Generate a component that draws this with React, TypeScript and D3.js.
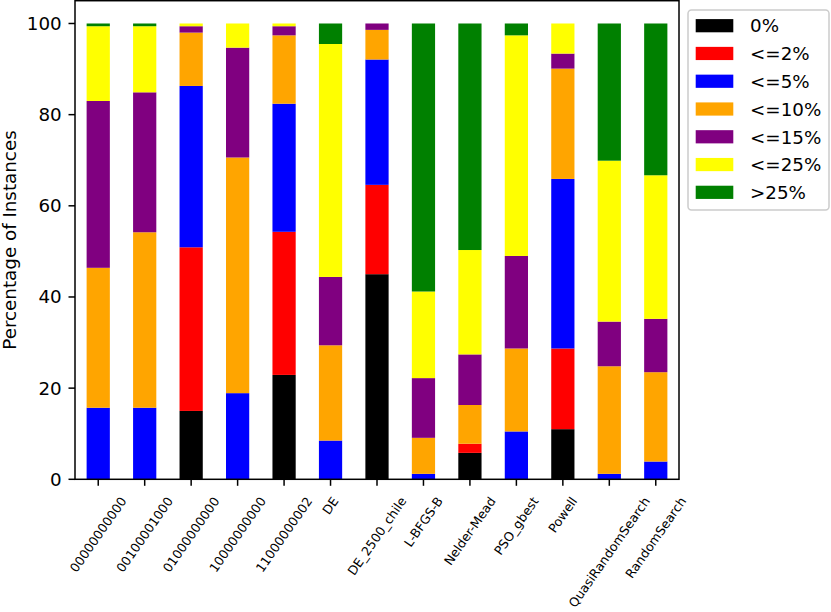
import React from "react";
import * as d3 from "d3";

const categories = [
  "00000000000", "00100001000", "01000000000", "10000000000", "11000000002",
  "DE", "DE_2500_chile", "L-BFGS-B", "Nelder-Mead", "PSO_gbest", "Powell",
  "QuasiRandomSearch", "RandomSearch",
];
const seriesNames = ["0%", "<=2%", "<=5%", "<=10%", "<=15%", "<=25%", ">25%"];
const seriesColors = ["#000000", "#ff0000", "#0000ff", "#ffa500", "#800080", "#ffff00", "#008000"];

const zero = [0, 0, 15.0, 0, 22.9, 0, 45.0, 0, 5.8, 0, 11.0, 0, 0];
const le2 = [0, 0, 35.9, 0, 31.4, 0, 19.6, 0, 2.0, 0, 17.7, 0, 0];
const le5 = [15.7, 15.7, 35.4, 18.9, 28.1, 8.5, 27.5, 1.2, 0, 10.5, 37.2, 1.2, 3.9];
const le10 = [30.7, 38.5, 11.7, 51.7, 15.0, 20.9, 6.5, 7.9, 8.5, 18.2, 24.2, 23.6, 19.6];
const le15 = [36.6, 30.7, 1.4, 24.1, 2.0, 15.0, 1.4, 13.1, 11.1, 20.3, 3.3, 9.8, 11.7];
const le25 = [16.4, 14.5, 0.6, 5.3, 0.6, 51.1, 0, 19.0, 22.9, 48.4, 6.6, 35.3, 31.5];
const gt25 = [0.6, 0.6, 0, 0, 0, 4.5, 0, 58.8, 49.7, 2.6, 0, 30.1, 33.3];

const yTicks = [0, 20, 40, 60, 80, 100];

const W = 831;
const H = 612;
const FONT = "DejaVu Sans";

function measure(text: string, size: number): number {
  if (typeof document === "undefined") return text.length * size * 0.6;
  const c = document.createElement("canvas");
  const ctx = c.getContext("2d");
  if (!ctx) return text.length * size * 0.6;
  ctx.font = `${size}px "${FONT}"`;
  return ctx.measureText(text).width;
}

export default function App() {
  const series = [zero, le2, le5, le10, le15, le25, gt25];
  const rows = categories.map((c, i) => {
    const r: Record<string, number | string> = { cat: c };
    seriesNames.forEach((s, k) => (r[s] = series[k][i]));
    return r;
  });
  const stack = d3.stack<any>().keys(seriesNames)(rows as any);

  const left = 75;
  const right = 679;
  const top = 0.7;
  const bottom = 479.3;
  const x = d3.scaleLinear().domain([-0.5, categories.length - 0.5]).range([left, right]);
  const y = d3.scaleLinear().domain([0, 105]).range([bottom, top]);
  const bw = x(0.25) - x(-0.25);

  const xFont = 12.6;
  const angle = 55;
  const sinA = Math.sin((angle * Math.PI) / 180);
  const cosA = Math.cos((angle * Math.PI) / 180);
  const hText = xFont * 1.164;
  const labelTop = bottom + 15;

  const legX = 688;
  const legY = 10;
  const legW = 141;
  const legH = 200;
  const entryY0 = 25.7;
  const entryStep = 27.77;

  return (
    <div style={{ position: "absolute", left: 0, top: 0 }}>
      <svg width={W} height={H} style={{ display: "block", background: "#fff" }} fontFamily={FONT}>
        <rect x={0} y={0} width={W} height={H} fill="#fff" />
        {stack.map((layer, k) => (
          <g key={seriesNames[k]} fill={seriesColors[k]}>
            {layer.map((d, i) =>
              d[1] - d[0] > 0 ? (
                <rect
                  key={i}
                  x={x(i) - bw / 2}
                  y={y(d[1])}
                  width={bw}
                  height={y(d[0]) - y(d[1])}
                />
              ) : null
            )}
          </g>
        ))}
        {/* spines */}
        <rect x={left} y={top} width={right - left} height={bottom - top} fill="none" stroke="#000" strokeWidth={1.5} />
        {/* y ticks */}
        {yTicks.map((t) => (
          <g key={t}>
            <line x1={left - 6.5} x2={left} y1={y(t)} y2={y(t)} stroke="#000" strokeWidth={1.5} />
            <text x={left - 13.3} y={y(t)} dy="0.35em" textAnchor="end" fontSize={18.3} fill="#000">
              {t}
            </text>
          </g>
        ))}
        {/* x ticks */}
        {categories.map((c, i) => {
          const L = measure(c, xFont);
          const bh = sinA * L + cosA * hText;
          const cy = labelTop + bh / 2;
          return (
            <g key={c}>
              <line x1={x(i)} x2={x(i)} y1={bottom} y2={bottom + 6.5} stroke="#000" strokeWidth={1.5} />
              <text
                transform={`translate(${x(i)},${cy}) rotate(${-angle})`}
                textAnchor="middle"
                dy="0.346em"
                fontSize={xFont}
                fill="#000"
              >
                {c}
              </text>
            </g>
          );
        })}
        {/* y label */}
        <text
          transform={`translate(16,${(top + bottom) / 2}) rotate(-90)`}
          textAnchor="middle"
          fontSize={18.3}
          fill="#000"
        >
          Percentage of Instances
        </text>
        {/* legend */}
        <rect x={legX} y={legY} width={legW} height={legH} rx={3.5} ry={3.5} fill="#fff" fillOpacity={0.8} stroke="#cccccc" strokeWidth={1.5} />
        {seriesNames.map((s, k) => {
          const cy = entryY0 + k * entryStep;
          return (
            <g key={s}>
              <rect x={695.7} y={cy - 6.6} width={37.6} height={13.2} fill={seriesColors[k]} />
              <text x={750} y={cy} dy="0.37em" fontSize={18.3} fill="#000">
                {s}
              </text>
            </g>
          );
        })}
      </svg>
    </div>
  );
}
